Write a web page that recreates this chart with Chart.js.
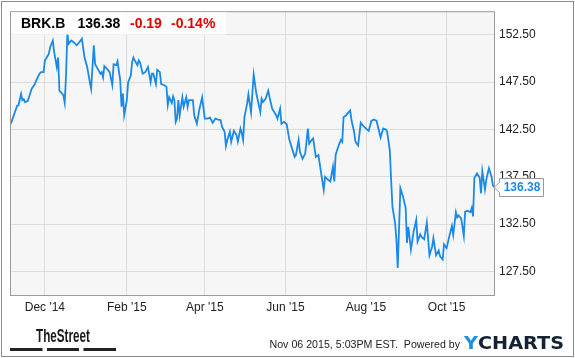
<!DOCTYPE html>
<html><head><meta charset="utf-8">
<script src="https://cdn.jsdelivr.net/npm/chart.js@4/dist/chart.umd.min.js"></script>
<style>html,body{margin:0;padding:0;background:#fff;}canvas{display:block;}</style>
</head><body>
<canvas id="c" width="575" height="358" style="width:575px;height:358px"></canvas>
<script>
// ---- data (days since 2014-11-05) ----
const startDate = '2014-11-05';
const dayOffsets = [0,2,5,6,8,9,10,11,13,14,16,18,20,22,23,25,26,27,29,30,32,33,35,36,37,39,40,41,42,43,44,46,48,50,52,54,56,58,60,61,63,64,66,68,69,70,71,73,75,77,78,80,81,83,84,85,86,88,89,91,92,93,94,96,97,98,100,102,104,106,107,108,110,111,113,114,116,118,119,120,122,123,124,125,126,127,128,130,131,133,134,135,138,139,141,143,145,147,149,151,153,155,157,159,160,162,163,164,166,167,169,171,172,174,175,176,177,179,180,182,184,186,189,190,191,193,195,196,198,201,202,204,205,207,209,211,213,215,216,218,219,221,223,225,226,228,229,231,233,235,237,238,240,242,244,245,246,248,250,251,252,254,255,257,258,260,261,263,265,267,271,273,275,277,280,282,284,285,287,288,289,291,292,293,295,297,299,300,301,303,305,307,308,310,311,313,315,317,319,320,322,324,325,327,328,330,332,334,335,337,338,339,341,343,344,346,348,349,350,351,353,355,356,357,359,360,362,364,365,366];
const prices = [143.05,143.8,145.0,145.05,146.25,145.6,145.7,145.4,145.5,145.9,146.8,147.2,147.85,148.4,148.56,148.56,149.8,150.0,150.5,151.2,151.9,150.7,149.1,150.1,146.6,146.3,146.1,145.3,148.2,152.7,151.55,151.9,151.7,151.4,151.7,152.1,150.1,149.1,147.5,146.8,151.4,149.4,148.9,148.4,148.56,148.0,149.2,148.9,148.56,147.2,149.4,149.3,149.7,147.7,144.9,146.3,144.0,145.6,147.5,148.2,149.6,150.1,149.8,149.3,149.8,149.6,148.4,148.56,149.1,147.5,148.4,148.4,147.3,148.8,148.56,147.3,147.2,147.0,145.1,145.9,145.3,146.0,145.6,143.3,143.65,145.6,144.0,145.9,144.9,145.9,144.9,145.6,145.6,144.0,143.1,144.7,145.9,143.65,143.65,143.75,143.2,143.65,143.55,143.5,142.8,142.25,140.75,141.4,142.25,141.2,142.35,141.9,141.2,142.6,142.1,141.4,143.8,145.2,146.2,144.3,148.3,146.3,144.35,145.75,145.4,145.75,146.6,145.9,144.7,144.0,143.65,144.7,143.1,143.3,143.05,141.4,140.5,139.6,139.8,141.4,140.1,139.4,139.95,142.6,141.0,141.4,141.55,139.6,139.8,137.9,136.1,137.5,137.2,137.0,138.55,137.0,139.8,140.7,141.4,141.2,143.8,144.0,144.2,144.5,143.5,142.25,141.2,140.8,143.2,142.85,142.35,143.4,143.55,143.4,141.65,142.6,142.5,142.25,140.3,137.15,134.35,132.6,130.85,127.85,136.3,135.4,134.2,130.5,132.2,129.8,131.7,132.95,130.65,131.4,131.15,130.9,132.65,129.2,130.1,131.0,129.2,129.7,129.1,128.75,130.35,129.95,131.2,132.3,131.35,133.75,133.2,133.4,133.1,131.25,133.8,133.9,133.75,134.2,133.3,137.4,137.85,137.4,135.75,138.1,136.15,137.2,138.4,137.5,136.6,136.38];
const xTickDays = [26,88,147,208,269,330];
const xTickLabels = ["Dec '14","Feb '15","Apr '15","Jun '15","Aug '15","Oct '15"];
const yTickValues = [127.5,132.5,137.5,142.5,147.5,152.5];
const ticker = 'BRK.B';
const lastPrice = '136.38';
const change = '-0.19';
const changePct = '-0.14%';
const stamp = 'Nov 06 2015, 5:03PM EST.  Powered by';

const FONT = "'Liberation Sans', Arial, Helvetica, sans-serif";
const BLUE = '#1a8ae6';

const deco = {
  id: 'deco',
  beforeDraw(chart) {
    const {ctx, chartArea: a} = chart;
    ctx.save();
    ctx.fillStyle = '#fff';
    ctx.fillRect(0, 0, chart.width, chart.height);
    ctx.fillStyle = '#f6f6f6';
    ctx.fillRect(a.left, a.top, a.right - a.left, a.bottom - a.top);
    ctx.restore();
  },
  afterDatasetsDraw(chart) {
    const {ctx, chartArea: a} = chart;
    ctx.save();
    ctx.strokeStyle = '#9b9b9b';
    ctx.lineWidth = 1;
    ctx.strokeRect(a.left + 0.5, a.top + 0.5, a.right - a.left - 1, a.bottom - a.top);
    ctx.fillStyle = 'rgba(255,255,255,0.8)';
    ctx.fillRect(a.left + 1, a.top + 1, 215, 22.5);
    ctx.textBaseline = 'alphabetic';
    ctx.textAlign = 'left';
    ctx.font = 'bold 14px ' + FONT;
    ctx.fillStyle = '#000';
    ctx.fillText(ticker, 21, 28);
    ctx.fillText(lastPrice, 77.5, 28);
    ctx.fillStyle = '#e60000';
    ctx.fillText(change, 130, 28);
    ctx.fillText(changePct, 171, 28);
    ctx.restore();
  },
  afterDraw(chart) {
    const {ctx, chartArea: a} = chart;
    const ys = chart.scales.y;
    ctx.save();
    const py = Math.round(ys.getPixelForValue(prices[prices.length - 1])) + 0.5;
    const bl = 499.5, br = 543.5, bt = py - 9, bb = py + 9;
    ctx.beginPath();
    ctx.moveTo(a.right - 1, py);
    ctx.lineTo(bl, py - 5);
    ctx.lineTo(bl, bt);
    ctx.lineTo(br, bt);
    ctx.lineTo(br, bb);
    ctx.lineTo(bl, bb);
    ctx.lineTo(bl, py + 5);
    ctx.closePath();
    ctx.fillStyle = '#fff';
    ctx.fill();
    ctx.strokeStyle = '#9a9a9a';
    ctx.lineWidth = 1;
    ctx.stroke();
    ctx.font = 'bold 12px ' + FONT;
    ctx.fillStyle = BLUE;
    ctx.textAlign = 'center';
    ctx.textBaseline = 'middle';
    ctx.fillText(lastPrice, (bl + br) / 2 + 0.5, py + 0.5);

    // TheStreet logo
    ctx.textAlign = 'left';
    ctx.textBaseline = 'alphabetic';
    ctx.font = "bold 18px 'Liberation Sans Narrow', 'Liberation Sans', Arial, sans-serif";
    ctx.fillStyle = '#1a1a1a';
    let w = ctx.measureText('TheStreet').width;
    ctx.save();
    ctx.translate(36, 342);
    ctx.scale(54 / w, 1);
    ctx.fillText('TheStreet', 0, 0);
    ctx.restore();
    ctx.fillStyle = '#222';
    ctx.fillRect(10, 348, 32.5, 3);
    ctx.fillRect(47, 348, 32, 3);
    ctx.fillRect(83.5, 348, 32.5, 3);

    // timestamp
    ctx.font = '11px ' + FONT;
    ctx.fillStyle = '#222';
    w = ctx.measureText(stamp).width;
    ctx.save();
    ctx.translate(269.5, 348);
    ctx.scale(190.5 / w, 1);
    ctx.fillText(stamp, 0, 0);
    ctx.restore();

    // YCHARTS logo
    ctx.font = "bold 18px 'DejaVu Sans', 'Liberation Sans', Arial, sans-serif";
    const wy = ctx.measureText('Y').width;
    const wc = ctx.measureText('CHARTS').width;
    const sc = 100 / (wy + wc);
    ctx.save();
    ctx.translate(464, 348.5);
    ctx.scale(sc, 1);
    ctx.fillStyle = '#1d8fe1';
    ctx.fillText('Y', 0, 0);
    ctx.fillStyle = '#142233';
    ctx.fillText('CHARTS', wy, 0);
    ctx.restore();

    ctx.strokeStyle = '#8c8c8c';
    ctx.lineWidth = 1;
    ctx.strokeRect(1.5, 1.5, 572, 355);
    ctx.restore();
  }
};

new Chart(document.getElementById('c'), {
  type: 'line',
  data: {
    datasets: [{
      data: dayOffsets.map((d, i) => ({x: d, y: prices[i]})),
      borderColor: BLUE,
      borderWidth: 1.8,
      pointRadius: 0,
      tension: 0,
      fill: false
    }]
  },
  options: {
    responsive: false,
    animation: false,
    devicePixelRatio: 1,
    layout: {padding: {left: 10, top: 10, right: 0, bottom: 0}},
    plugins: {legend: {display: false}, tooltip: {enabled: false}},
    scales: {
      x: {
        type: 'linear',
        min: -0.4,
        max: 366.6,
        afterBuildTicks: s => { s.ticks = xTickDays.map(v => ({value: v})); },
        afterFit: s => { s.height = 63; },
        ticks: {
          callback: (v, i) => xTickLabels[i],
          font: {family: FONT, size: 12},
          color: '#222',
          padding: 5,
          maxRotation: 0,
          autoSkip: false
        },
        grid: {color: '#dcdcdc', lineWidth: 1, drawTicks: false},
        border: {display: false}
      },
      y: {
        position: 'right',
        min: 125,
        max: 155,
        afterBuildTicks: s => { s.ticks = yTickValues.map(v => ({value: v})); },
        afterFit: s => { s.width = 80; },
        ticks: {
          callback: v => Number(v).toFixed(2),
          font: {family: FONT, size: 12},
          color: '#222',
          padding: 4
        },
        grid: {color: '#dcdcdc', lineWidth: 1, drawTicks: false},
        border: {display: false}
      }
    }
  },
  plugins: [deco]
});
</script>
</body></html>
